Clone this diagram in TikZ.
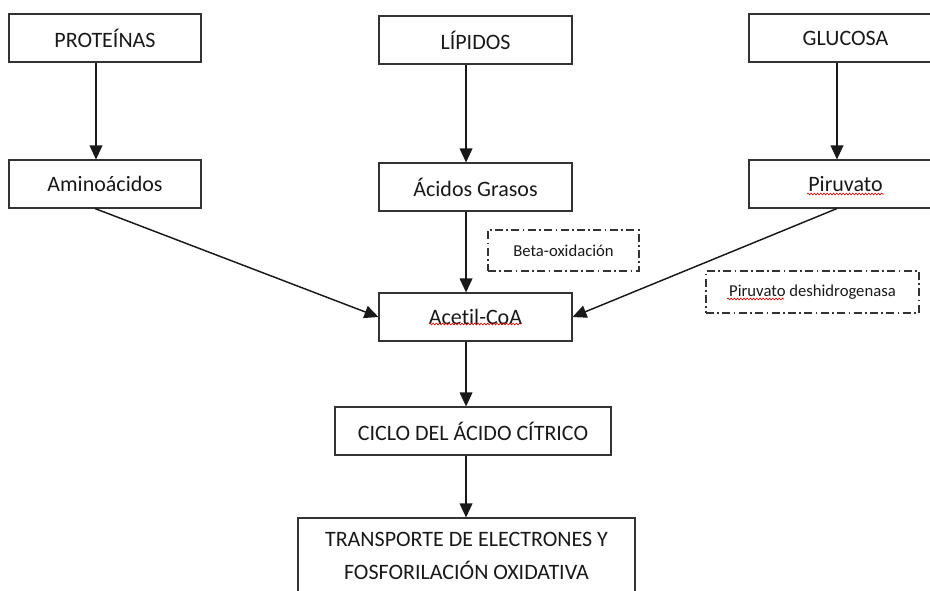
\documentclass[tikz,border=0pt]{standalone}
\usepackage{fontspec}
\setmainfont{Carlito}[Ligatures={NoCommon,NoRequired,NoContextual}]
\usetikzlibrary{arrows.meta,decorations.pathmorphing}

\tikzset{
  box/.style={draw=black!80, line width=0.8pt, rectangle, inner sep=0pt,
    font=\fontsize{16.5}{20}\selectfont, text=black!90, align=center},
  notebox/.style={draw=black!80, line width=0.8pt, rectangle, inner sep=0pt,
    font=\fontsize{12.5}{15}\selectfont, text=black!90,
    dash pattern=on 6pt off 2.5pt on 1.3pt off 2.5pt},
  flow/.style={line width=1.1pt, draw=black!90,
    -{Triangle[length=10.5pt,width=9.5pt]}},
  spell/.style={draw=red!85!black, line width=0.45pt, decorate,
    decoration={snake, amplitude=0.7pt, segment length=2.4pt}}
}

\begin{document}
\begin{tikzpicture}[x=0.75pt, y=-0.75pt]
  \useasboundingbox (0,0) rectangle (930,590);

  % sources
  \node[box, minimum width=144pt, minimum height=36pt] (prot) at (105,38) {PROTEÍNAS};
  \node[box, minimum width=144.75pt, minimum height=36pt] (lip)  at (475.5,40) {LÍPIDOS};
  \node[box, minimum width=144.75pt, minimum height=36pt] (glu)  at (845.5,38) {GLUCOSA};

  % intermediates
  \node[box, minimum width=144pt, minimum height=36pt] (amino) at (105,184) {Aminoácidos};
  \node[box, minimum width=144.75pt, minimum height=36pt] (acid)  at (475.5,187) {Ácidos Grasos};
  \node[box, minimum width=144.75pt, minimum height=36pt] (piru)  at (845.5,184) {Piruvato};

  % enzyme / process notes
  \node[notebox, minimum width=113.25pt, minimum height=30.75pt] (beta) at (563.5,250.5) {Beta-oxidación};
  \node[notebox, minimum width=159.75pt, minimum height=31.5pt] (pdh)  at (812.5,292) {Piruvato deshidrogenasa};

  % common pathway
  \node[box, minimum width=144.75pt, minimum height=36pt] (acetil) at (475.5,317) {Acet\kern0pt il-CoA};
  \node[box, minimum width=207pt, minimum height=36pt] (ciclo)  at (473,431) {CICLO DEL ÁCIDO CÍTRICO};
  \node[box, minimum width=252.75pt, minimum height=57pt, text depth=0pt] (trans) at (466.5,556)
    {TRANSPORTE DE ELECTRONES Y\\[4.5pt] FOSFORILACIÓN OXIDATIVA};

  % spell-check underlines
  \draw[spell] ([xshift=-34.9pt, yshift=-5.25pt]acetil.center) -- ([xshift=34.1pt, yshift=-5.25pt]acetil.center);
  \draw[spell] ([xshift=-28.9pt, yshift=-7.5pt]piru.center) -- ([xshift=28.9pt, yshift=-7.5pt]piru.center);
  \draw[spell] ([xshift=-64.1pt, yshift=-5.25pt]pdh.center) -- ([xshift=-21.4pt, yshift=-5.25pt]pdh.center);

  % vertical connectors, kept exactly upright
  \draw[flow] ([xshift=-6.75pt]prot.south) coordinate (p1) -- (p1 |- amino.north);
  \draw[flow] ([xshift=-7.1pt]lip.south) coordinate (p2) -- (p2 |- acid.north);
  \draw[flow] ([xshift=-6.4pt]glu.south) coordinate (p3) -- (p3 |- piru.north);
  \draw[flow] ([xshift=-7.1pt]acid.south) coordinate (p4) -- (p4 |- acetil.north);
  \draw[flow] ([xshift=-7.1pt]acetil.south) coordinate (p5) -- (p5 |- ciclo.north);
  \draw[flow] (p5 |- ciclo.south) -- (p5 |- trans.north);

  % converging connectors
  \draw[flow] ([xshift=-7.5pt]amino.south) -- (acetil.west);
  \draw[flow] ([xshift=-6.4pt]piru.south) -- (acetil.east);
\end{tikzpicture}
\end{document}
